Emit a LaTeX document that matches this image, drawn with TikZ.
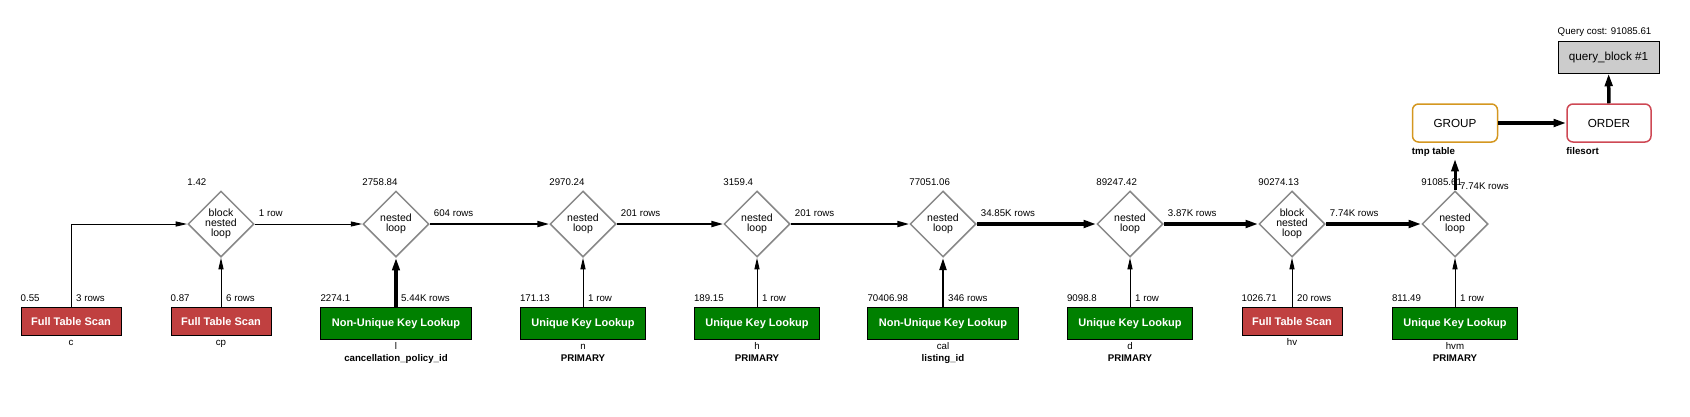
\documentclass[tikz,border=0pt]{standalone}
\usepackage{fontspec}
\setmainfont{Liberation Sans}
\usetikzlibrary{arrows.meta}
\usetikzlibrary{shapes.geometric}
\usetikzlibrary{positioning}
\usepackage{xcolor}

\definecolor{scanred}{RGB}{192,64,64}
\definecolor{lookgreen}{RGB}{0,128,0}
\definecolor{loopgray}{RGB}{136,136,136}
\definecolor{groupgold}{RGB}{212,151,32}
\definecolor{orderred}{RGB}{206,72,84}
\definecolor{blockgray}{RGB}{204,204,204}

\begin{document}
\begin{tikzpicture}[x=1pt, y=-1pt, >={Triangle[length=11pt 0.5, width=4pt 1]},
 lbl/.style={font=\fontsize{9.7}{11}\selectfont, inner sep=0, text height=7pt, text depth=2pt},
 keylbl/.style={lbl, font=\bfseries\fontsize{9.7}{11}\selectfont},
 scan/.style={draw, line width=1pt, fill=scanred, text=white, font=\bfseries\fontsize{11}{12}\selectfont, minimum width=100pt, minimum height=28pt, inner sep=0},
 lookup/.style={draw, line width=1pt, fill=lookgreen, text=white, font=\bfseries\fontsize{11}{12}\selectfont, inner xsep=11pt, inner ysep=0, minimum height=32pt},
 loopnode/.style={diamond, draw=loopgray, line width=1.5pt, minimum width=66pt, minimum height=66pt, inner sep=0, align=center, font=\fontsize{10.5}{10}\selectfont},
 opbox/.style={draw, rounded corners=6pt, line width=1.5pt, minimum width=85pt, minimum height=38pt, font=\fontsize{11.7}{13}\selectfont}]
\useasboundingbox (0,0) rectangle (1690,416);

% nested loops
\foreach \j/\x/\txt/\cost in {j1/221/block\\nested\\loop/1.42, j2/396/nested\\loop/2758.84,
  j3/583/nested\\loop/2970.24, j4/757/nested\\loop/3159.4, j5/943/nested\\loop/77051.06,
  j6/1130/nested\\loop/89247.42, j7/1292/block\\nested\\loop/90274.13, j8/1455/nested\\loop/91085.61} {
 \node[loopnode] (\j) at (\x,224) {\txt};
 \node[lbl, anchor=south west, yshift=3pt] at (\j.west |- \j.north) {\cost};
}
\foreach \a/\b/\rows/\lw in {j1/j2/1 row/1pt, j2/j3/604 rows/2pt, j3/j4/201 rows/2pt, j4/j5/201 rows/2pt,
  j5/j6/34.85K rows/3.5pt, j6/j7/3.87K rows/3.5pt, j7/j8/7.74K rows/3.5pt} {
 \draw[->, line width=\lw] (\a.east) -- (\b.west);
 \node[lbl, above right=5.5pt and 4pt of \a.east] {\rows};
}

% tables
\node[scan, anchor=north] (tc) at (71,307) {Full Table Scan};
\node[lbl, above right=3pt and 0pt of tc.north west] {0.55};
\node[lbl, above right=3pt and 5pt of tc.north] {3 rows};
\node[lbl, below=2pt of tc] {c};
\draw[->, line width=1pt] (tc) |- (j1);
\foreach \t/\j/\kind/\txt/\cost/\rows/\lw/\alias in {
  tcp/j1/scan/Full Table Scan/0.87/6 rows/1pt/cp,
  tl/j2/lookup/Non-Unique Key Lookup/2274.1/5.44K rows/3.3pt/l,
  tn/j3/lookup/Unique Key Lookup/171.13/1 row/1pt/n,
  th/j4/lookup/Unique Key Lookup/189.15/1 row/1pt/h,
  tcal/j5/lookup/Non-Unique Key Lookup/70406.98/346 rows/2.7pt/cal,
  td/j6/lookup/Unique Key Lookup/9098.8/1 row/1pt/d,
  thv/j7/scan/Full Table Scan/1026.71/20 rows/1pt/hv,
  thvm/j8/lookup/Unique Key Lookup/811.49/1 row/1pt/hvm} {
 \node[\kind, anchor=north] (\t) at (\j |- 0,307) {\txt};
 \node[lbl, above right=3pt and 0pt of \t.north west] {\cost};
 \node[lbl, above right=3pt and 5pt of \t.north] {\rows};
 \node[lbl, below=2pt of \t] (\t-n) {\alias};
 \draw[->, line width=\lw] (\t) -- (\j);
}
\node[keylbl, below=2.5pt of tl-n] {cancellation\_policy\_id};
\node[keylbl, below=2.5pt of tn-n] {PRIMARY};
\node[keylbl, below=2.5pt of th-n] {PRIMARY};
\node[keylbl, below=2.5pt of tcal-n] {listing\_id};
\node[keylbl, below=2.5pt of td-n] {PRIMARY};
\node[keylbl, below=2.5pt of thvm-n] {PRIMARY};

% group, order, query block
\node[opbox, draw=groupgold] (group) at (1455,123) {GROUP};
\node[keylbl, below right=5pt and 0pt of group.south west] (tmp) {tmp table};
\node[opbox, draw=orderred, minimum width=84pt] (order) at (1609,123) {ORDER};
\node[keylbl, below right=5pt and 0pt of order.south west] {filesort};
\node[draw, fill=blockgray, line width=1pt, minimum width=101pt, minimum height=32pt, font=\fontsize{11.7}{13}\selectfont] (qb) at (1608.5,57) {query\_block \#1};
\node[lbl, above right=3.5pt and 0pt of qb.north west] {Query cost: 91085.61};
\coordinate[below=16pt of group.south] (groupin);
\draw[->, line width=3pt] (j8) -- (groupin);
\node[lbl, anchor=west, xshift=5pt, yshift=3pt] at (j8.north) {7.74K rows};
\draw[->, line width=3.5pt] (group) -- (order);
\draw[->, line width=3.5pt] (order) -- (qb);
\end{tikzpicture}
\end{document}
